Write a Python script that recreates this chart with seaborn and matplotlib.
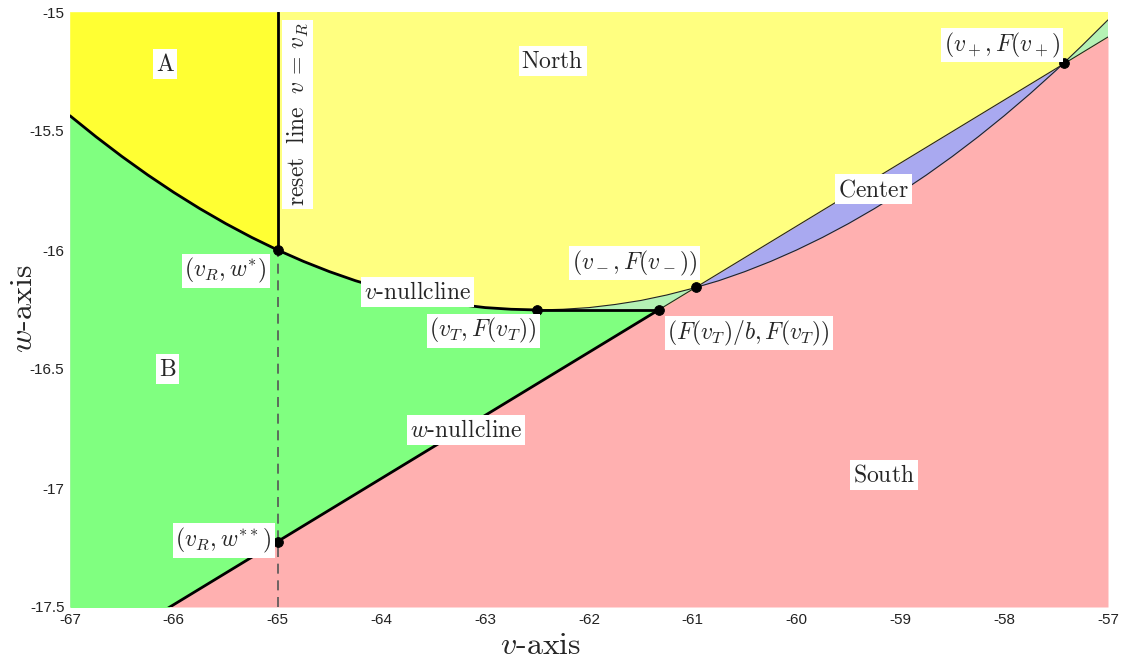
import numpy as np
import pandas as pd
import matplotlib
matplotlib.use("Agg")
import matplotlib.pyplot as plt
import seaborn as sns

# ---- data ----
# v-nullcline w = F(v), sampled every 0.25 mV
v_grid = [-67.0, -66.75, -66.5, -66.25, -66.0, -65.75, -65.5, -65.25, -65.0, -64.75,
          -64.5, -64.25, -64.0, -63.75, -63.5, -63.25, -63.0, -62.75, -62.5, -62.25,
          -62.0, -61.75, -61.5, -61.25, -61.0, -60.75, -60.5, -60.25, -60.0, -59.75,
          -59.5, -59.25, -59.0, -58.75, -58.5, -58.25, -58.0, -57.75, -57.5, -57.25, -57.0]
F_vals = [-15.436, -15.524, -15.607, -15.685, -15.758, -15.826, -15.889, -15.947, -16.000, -16.048,
          -16.091, -16.129, -16.161, -16.189, -16.212, -16.229, -16.242, -16.249, -16.252, -16.249,
          -16.242, -16.229, -16.212, -16.189, -16.161, -16.129, -16.091, -16.048, -16.000, -15.947,
          -15.889, -15.826, -15.758, -15.685, -15.607, -15.524, -15.436, -15.343, -15.245, -15.141, -15.033]
# w-nullcline (straight line w = b v): end points
wnull_v = [-67.0, -57.0]
wnull_w = [-17.755, -15.105]
# special points
v_R = -65.0
w_star = -16.000
w_starstar = -17.225
v_T = -62.5
F_vT = -16.252
vT_over_b = -61.33
v_minus, F_minus = -60.97, -16.157
v_plus, F_plus = -57.42, -15.216

pt_v = [v_R, v_R, v_T, vT_over_b, v_minus, v_plus]
pt_w = [w_star, w_starstar, F_vT, F_vT, F_minus, F_plus]

region_labels = ["A", "North", "B", "South", "Center"]
region_v = [-66.085, -62.35, -66.06, -59.16, -59.26]
region_w = [-15.218, -15.206, -16.50, -16.945, -15.744]

point_labels = [r"$(v_R,w^{*})$", r"$(v_R,w^{**})$", r"$(v_T,F(v_T))$",
                r"$(F(v_T)/b,F(v_T))$", r"$(v_-,F(v_-))$", r"$(v_+,F(v_+)$",
                r"$v\mathrm{\text{-}nullcline}$", r"$w\mathrm{\text{-}nullcline}$"]
point_lab_v = [-65.50, -65.52, -63.02, -60.46, -61.56, -58.02, -63.65, -63.185]
point_lab_w = [-16.088, -17.222, -16.340, -16.349, -16.055, -15.139, -16.176, -16.756]

xticks = [-67, -66, -65, -64, -63, -62, -61, -60, -59, -58, -57]
yticks = [-15, -15.5, -16, -16.5, -17, -17.5]

# ---- colours ----
c_north = "#ffff80"
c_A = "#ffff33"
c_green = "#80ff80"
c_lgreen = "#b4f2b4"
c_blue = "#a9a9f0"
c_pink = "#ffb0b0"

sns.set_theme(style="white")
plt.rcParams["mathtext.fontset"] = "cm"

v = np.array(v_grid)
F = np.array(F_vals)
bv = np.interp(v, wnull_v, wnull_w)

fig = plt.figure(figsize=(11.26, 6.61), dpi=100)
ax = fig.add_axes([70 / 1126, 1 - 607 / 661, (1108 - 70) / 1126, (607 - 12) / 661])
ymin, ymax = -17.5, -15.0

# regions (layered)
ax.fill_between(v, ymin, ymax, color=c_north, lw=0, zorder=1)
ax.fill_between(v, F, ymax, where=v <= v_R, color=c_A, lw=0, zorder=2)
ax.fill_between(v, ymin, bv, color=c_pink, lw=0, zorder=2)
ax.fill_between(v, F, bv, where=F <= bv, interpolate=True, color=c_blue, lw=0, zorder=3)
ax.fill_between(v, bv, F, where=F >= bv, interpolate=True, color=c_lgreen, lw=0, zorder=3)
upperB = np.where(v <= v_T, F, F_vT)
ax.fill_between(v, bv, upperB, where=upperB >= bv, interpolate=True, color=c_green, lw=0, zorder=4)

# nullclines
df = pd.DataFrame({"v": v, "F": F})
sns.lineplot(data=df[df.v <= v_T], x="v", y="F", color="black", lw=2.0, ax=ax, zorder=6)
sns.lineplot(data=df[df.v >= v_T], x="v", y="F", color="#222222", lw=0.8, ax=ax, zorder=6)
dfw = pd.DataFrame({"v": [wnull_v[0], vT_over_b], "w": [wnull_w[0], F_vT]})
sns.lineplot(data=dfw, x="v", y="w", color="black", lw=2.0, ax=ax, zorder=6)
dfw2 = pd.DataFrame({"v": [vT_over_b, wnull_v[1]], "w": [F_vT, wnull_w[1]]})
sns.lineplot(data=dfw2, x="v", y="w", color="#222222", lw=0.8, ax=ax, zorder=6)
ax.plot([v_T, vT_over_b], [F_vT, F_vT], color="black", lw=2.0, zorder=6)

# reset line
ax.plot([v_R, v_R], [w_star, ymax], color="black", lw=2.0, zorder=6)
ax.plot([v_R, v_R], [ymin, w_star], color="#555555", lw=1.2, ls=(0, (6, 4)), zorder=6)

# points
sns.scatterplot(x=pt_v, y=pt_w, color="black", s=50, edgecolor="black", ax=ax, zorder=8)

# labels
box = dict(facecolor="white", edgecolor="none", pad=2.0)
for t, x, y in zip(region_labels, region_v, region_w):
    ax.text(x, y, r"$\mathrm{%s}$" % t, fontsize=17, ha="center", va="center", bbox=box, zorder=9)
for t, x, y in zip(point_labels, point_lab_v, point_lab_w):
    ax.text(x, y, t, fontsize=17, ha="center", va="center", bbox=box, zorder=9)
ax.text(-64.81, -15.43, r"$\mathrm{reset\ \ line}\ \ v\,=\,v_R$", fontsize=17, rotation=90,
        ha="center", va="center", bbox=box, zorder=9)

ax.set_xlim(-67, -57)
ax.set_ylim(ymin, ymax)
ax.set_xticks(xticks)
ax.set_yticks(yticks)
ax.set_xticklabels([f"{t:g}" for t in xticks])
ax.set_yticklabels([f"{t:g}" for t in yticks])
for lab in ax.get_xticklabels() + ax.get_yticklabels():
    lab.set_family(["Liberation Sans Narrow", "Liberation Sans", "DejaVu Sans"])
    lab.set_fontsize(11)
    lab.set_color("#222222")
ax.tick_params(length=0, pad=4)
for s in ax.spines.values():
    s.set_visible(False)
ax.set_xlabel(r"$v\mathrm{\text{-}axis}$", fontsize=23, va="center")
ax.set_ylabel(r"$w\mathrm{\text{-}axis}$", fontsize=23, va="center")
ax.xaxis.set_label_coords((541 - 70) / 1038, (607 - 646) / 595)
ax.yaxis.set_label_coords((24 - 70) / 1038, (607 - 309) / 595)

fig.savefig("out.png", dpi=100)
